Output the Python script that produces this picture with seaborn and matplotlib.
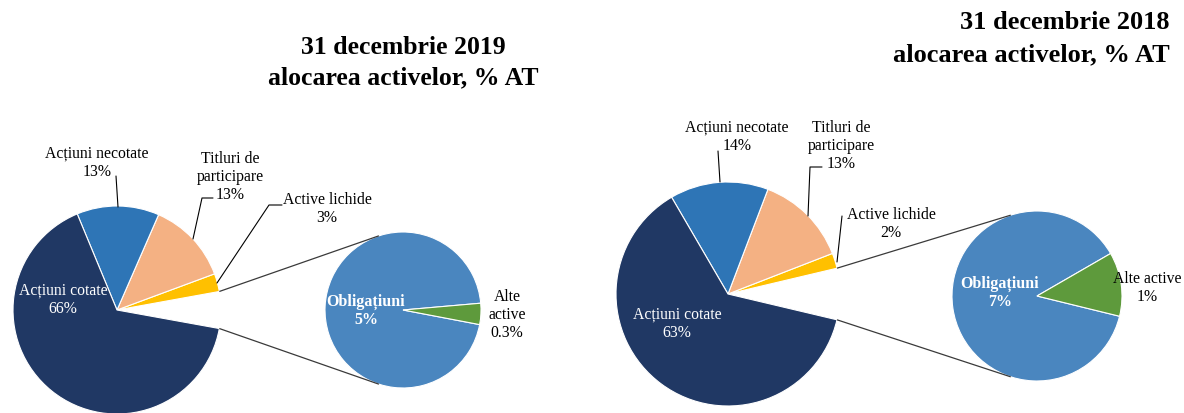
import matplotlib
matplotlib.use('Agg')
import matplotlib.pyplot as plt
import seaborn as sns
import numpy as np

# ---------------- data ----------------
main_categories = ['Acțiuni cotate', 'Acțiuni necotate', 'Titluri de participare', 'Active lichide']
sec_categories = ['Obligațiuni', 'Alte active']

main_2019 = [65.9, 12.8, 12.8, 2.8]
sec_2019 = [5.45, 0.25]
pct_main_2019 = ['66%', '13%', '13%', '3%']
pct_sec_2019 = ['5%', '0.3%']

main_2018 = [62.9, 14.2, 13.3, 2.2]
sec_2018 = [6.5, 0.9]
pct_main_2018 = ['63%', '14%', '13%', '2%']
pct_sec_2018 = ['7%', '1%']

title_2019 = '31 decembrie 2019\nalocarea activelor, % AT'
title_2018 = '31 decembrie 2018\nalocarea activelor, % AT'

# ---------------- style ----------------
sns.set_theme(style='white')
plt.rcParams['font.family'] = ['Liberation Serif', 'DejaVu Serif']
plt.rcParams['text.color'] = 'black'

main_colors = sns.color_palette(['#203864', '#2E75B6', '#F4B183', '#FFC000'])
sec_colors = sns.color_palette(['#4A86BF', '#5E9A3C'])

W, H = 1184, 414
fig = plt.figure(figsize=(W / 100, H / 100), dpi=100)
fig.patch.set_facecolor('white')
ax = fig.add_axes([0, 0, 1, 1])

LBL = 11.3
LS = 1.2


def Y(y):
    return H - y


def pie_of_pie(main, sec, c1, r1, c2, r2, start2):
    other = sum(sec)
    total = sum(main) + other
    half = other / total * 180.0
    vals = [other, main[3], main[2], main[1], main[0]]
    cols = ['white', main_colors[3], main_colors[2], main_colors[1], main_colors[0]]
    ax.pie(vals, colors=cols, startangle=-half, counterclock=True,
           center=(c1[0], Y(c1[1])), radius=r1,
           wedgeprops=dict(edgecolor='white', linewidth=0.8))
    ax.pie(sec, colors=list(sec_colors), startangle=start2, counterclock=True,
           center=(c2[0], Y(c2[1])), radius=r2,
           wedgeprops=dict(edgecolor='white', linewidth=0.8))
    for sgn in (1, -1):
        a1 = np.deg2rad(sgn * half)
        a2 = np.deg2rad(sgn * 108)
        ax.plot([c1[0] + r1 * np.cos(a1), c2[0] + r2 * np.cos(a2)],
                [Y(c1[1]) + r1 * np.sin(a1), Y(c2[1]) + r2 * np.sin(a2)],
                color='#3a3a3a', lw=0.9, solid_capstyle='butt')


def lbl(x, y, s, color='black', weight='normal', size=LBL):
    ax.text(x, Y(y), s, ha='center', va='center', color=color, fontweight=weight,
            fontsize=size, linespacing=LS)


def leader(xs, ys):
    ax.plot(xs, [Y(v) for v in ys], color='black', lw=0.8)


# ---------- 2019 ----------
pie_of_pie(main_2019, sec_2019, (117, 311), 104, (403, 311), 78, 5)
lbl(63, 300, f'{main_categories[0]}\n{pct_main_2019[0]}', color='white')
lbl(97, 163, f'{main_categories[1]}\n{pct_main_2019[1]}')
lbl(230, 177, 'Titluri de\nparticipare\n' + pct_main_2019[2])
lbl(327, 209, f'{main_categories[3]}\n{pct_main_2019[3]}')
lbl(366, 311, f'{sec_categories[0]}\n{pct_sec_2019[0]}', color='white', weight='bold', size=11.5)
lbl(507, 315, 'Alte\nactive\n' + pct_sec_2019[1])
leader([116, 118], [177, 208])
leader([213, 202, 193], [199, 199, 240])
leader([282, 269, 217], [206, 206, 284])
for i, line in enumerate(title_2019.split('\n')):
    ax.text(403, Y(47 + 31 * i), line, ha='center', va='center', fontsize=18.5, fontweight='bold')

# ---------- 2018 ----------
pie_of_pie(main_2018, sec_2018, (728, 295), 112, (1037, 297), 85, 30)
lbl(677, 324, f'{main_categories[0]}\n{pct_main_2018[0]}', color='white')
lbl(737, 137, f'{main_categories[1]}\n{pct_main_2018[1]}')
lbl(841, 146, 'Titluri de\nparticipare\n' + pct_main_2018[2])
lbl(891, 224, f'{main_categories[3]}\n{pct_main_2018[3]}')
lbl(1000, 293, f'{sec_categories[0]}\n{pct_sec_2018[0]}', color='white', weight='bold', size=11.5)
lbl(1147, 288, f'{sec_categories[1]}\n{pct_sec_2018[1]}')
leader([718, 720], [152, 183])
leader([822, 810, 808], [168, 168, 217])
leader([842, 837], [217, 263])
for i, line in enumerate(title_2018.split('\n')):
    ax.text(1170, Y(22 + 33 * i), line, ha='right', va='center', fontsize=19, fontweight='bold')

ax.set_xlim(0, W)
ax.set_ylim(0, H)
ax.set_aspect('equal')
ax.axis('off')

fig.savefig('out.png', dpi=100, facecolor='white')
